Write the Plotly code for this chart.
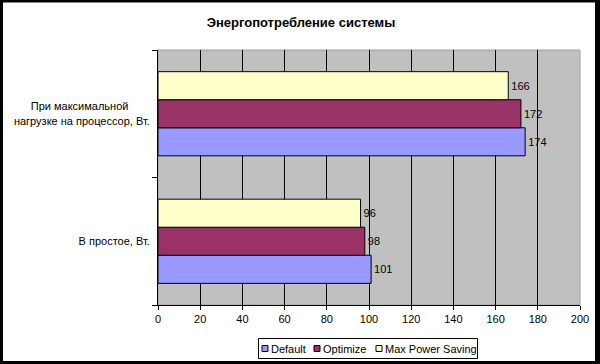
import plotly.graph_objects as go

categories = ["В простое, Вт.", "При максимальной" + "&nbsp;" * 7 + "<br>нагрузке на процессор, Вт."]
series_names = ["Default", "Optimize", "Max Power Saving"]
default_vals = [101, 174]
optimize_vals = [98, 172]
maxps_vals = [96, 166]
colors = ["#9999FF", "#993366", "#FFFFCC"]
x_ticks = [0, 20, 40, 60, 80, 100, 120, 140, 160, 180, 200]

W, H = 600, 364
ML, MR, MT, MB = 158, 20, 50, 59
PW, PH = W - ML - MR, H - MT - MB
FONT = "Liberation Sans, Arial"


def px_x(p):
    return (p - ML) / PW


def px_y(p):
    return (MT + PH - p) / PH


fig = go.Figure()
for name, vals, col in zip(series_names, [default_vals, optimize_vals, maxps_vals], colors):
    fig.add_trace(go.Bar(
        y=categories, x=vals, name=name, orientation="h",
        marker=dict(color=col, line=dict(color="black", width=1)),
        text=[str(v) for v in vals], textposition="outside",
        textfont=dict(family=FONT, size=11, color="black"),
        cliponaxis=False, showlegend=False, hoverinfo="skip",
    ))

# manual compact legend (Excel style)
shapes = [
    dict(type="rect", xref="paper", yref="paper", x0=0, x1=1, y0=0, y1=1,
         line=dict(color="#A0A0A0", width=1), layer="below"),
    dict(type="rect", xref="paper", yref="paper",
         x0=px_x(-1), x1=px_x(W + 1), y0=px_y(H + 1), y1=px_y(-1.5),
         line=dict(color="black", width=8), layer="above"),
    dict(type="line", xref="paper", yref="paper",
         x0=px_x(597.5), x1=px_x(597.5), y0=px_y(H), y1=px_y(0),
         line=dict(color="black", width=5), layer="above"),
    dict(type="rect", xref="paper", yref="paper",
         x0=px_x(258.5), x1=px_x(477.5), y0=px_y(358.5), y1=px_y(338.5),
         line=dict(color="black", width=1), fillcolor="white", layer="above"),
]
annotations = []
text_widths = [37, 47, 94]
x = 262
for name, col, tw in zip(series_names, colors, text_widths):
    shapes.append(dict(type="rect", xref="paper", yref="paper",
                       x0=px_x(x), x1=px_x(x + 6), y0=px_y(351.5), y1=px_y(345.5),
                       line=dict(color="black", width=1), fillcolor=col, layer="above"))
    annotations.append(dict(xref="paper", yref="paper", x=px_x(x + 7), y=px_y(348.5),
                            xanchor="left", yanchor="middle", text=name, showarrow=False,
                            font=dict(family=FONT, size=11, color="black")))
    x += 7 + tw + 8

fig.update_layout(
    template="none",
    width=W, height=H,
    margin=dict(l=ML, r=MR, t=MT, b=MB, pad=0),
    paper_bgcolor="white", plot_bgcolor="#C0C0C0",
    barmode="group", bargap=0.34, bargroupgap=0,
    font=dict(family=FONT, size=11, color="black"),
    title=dict(text="<b>Энергопотребление системы</b>", x=301 / W, xanchor="center",
               y=1 - 22 / H, yanchor="middle",
               font=dict(family=FONT, size=13, color="black")),
    showlegend=False,
    xaxis=dict(range=[0, 200], tickvals=x_ticks, showgrid=True, gridcolor="black", gridwidth=1,
               ticks="outside", ticklen=4, tickcolor="black", showline=True, linecolor="black",
               linewidth=1, zeroline=False, tickfont=dict(size=11), automargin=False,
               fixedrange=True),
    yaxis=dict(showgrid=False, ticks="outside", ticklen=5, tickcolor="black", tickson="boundaries",
               showline=True, linecolor="black", linewidth=1, tickfont=dict(size=11),
               ticklabelstandoff=5, automargin=False, fixedrange=True),
    shapes=shapes,
    annotations=annotations,
)

fig.write_html("out.html", config={"displayModeBar": False, "staticPlot": True},
               post_script="document.body.style.margin='0';document.body.style.overflow='hidden';")
